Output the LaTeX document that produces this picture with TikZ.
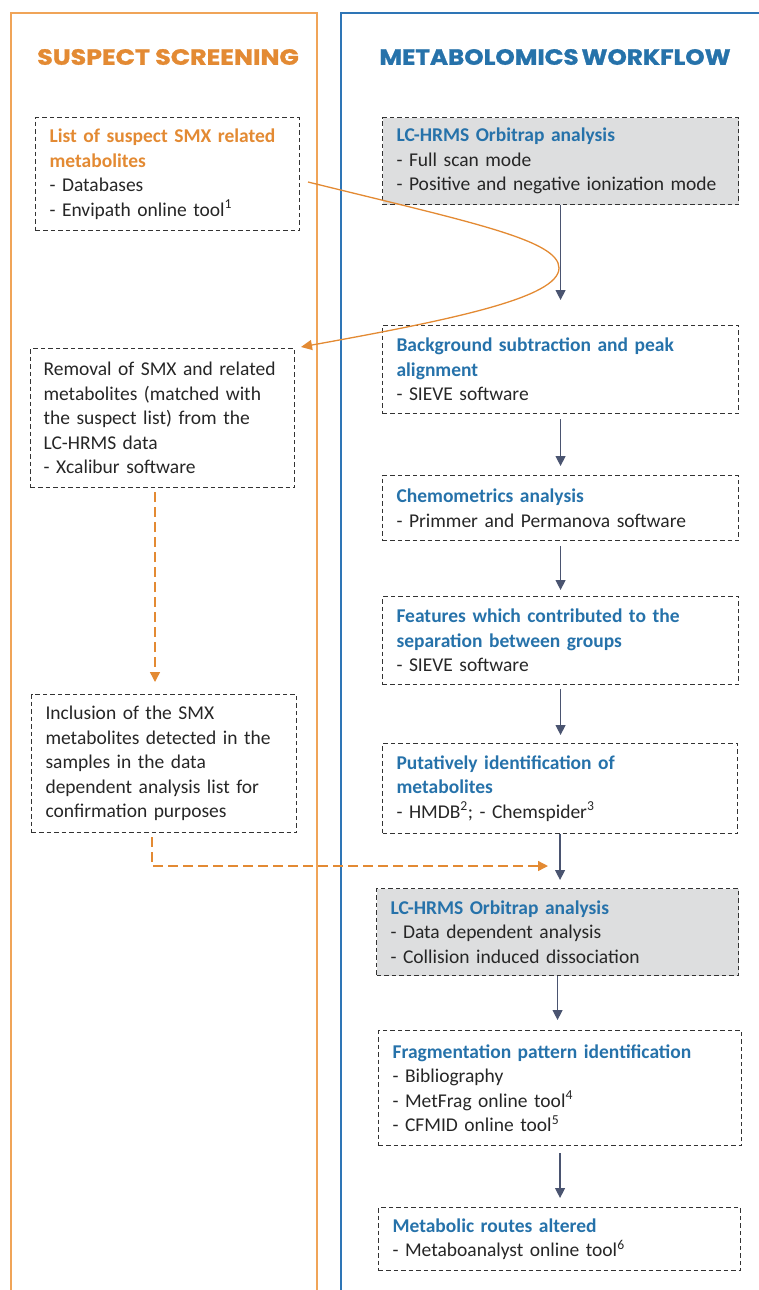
\documentclass[tikz,border=0pt]{standalone}
\usepackage{fontspec}
\setmainfont{Carlito}
\newfontfamily\hdrfont{Poppins}[BoldFeatures={FakeBold=1.2}]
\usetikzlibrary{arrows.meta,calc}
\definecolor{ora}{HTML}{E38A33}
\definecolor{oline}{HTML}{F0A458}
\definecolor{blu}{HTML}{2672AA}
\definecolor{bline}{HTML}{2E75B6}
\definecolor{grayfill}{HTML}{DDDEDF}
\definecolor{arrc}{HTML}{4A5470}
\definecolor{txt}{HTML}{262626}
\begin{document}
\begin{tikzpicture}[x=1pt,y=-1pt,
  box/.style={draw=black!80, dash pattern=on 4.5pt off 3pt, line width=1.1pt,
    anchor=north west, align=left, inner xsep=14pt, inner ysep=0pt,
    font=\fontsize{19.5}{24.5}\selectfont, text=txt},
  grey/.style={box, fill=grayfill},
  hdr/.style={font=\hdrfont\bfseries\fontsize{22}{26}\selectfont},
  arr/.style={draw=arrc, line width=1.3pt, -{Triangle[width=10pt,length=10pt]}},
  odash/.style={draw=ora, line width=1.4pt, dash pattern=on 10pt off 5pt, -{Triangle[width=10pt,length=10pt]}},
  ocurve/.style={draw=ora, line width=1.3pt, -{Triangle[width=10pt,length=11pt]}}]
\useasboundingbox (0,0) rectangle (759,1290);
% panels
\draw[oline, line width=1.6pt] (11,1292) -- (11,13) -- (317,13) -- (317,1292);
\draw[bline, line width=1.5pt] (341,1292) -- (341,13) -- (761,13);
% headers
\node[hdr, text=ora] (h1) at (168,57) {\scalebox{1.15}[1]{SUSPECT SCREENING}};
\node[hdr, text=blu] (h2) at (555,57) {\scalebox{1.12}[1]{METABOLOMICS\hspace{0.12em}WORKFLOW}};
% left column
\node[box, minimum width=264pt, minimum height=113pt, text width=236pt] (s1) at (35,117)
  {\textcolor{ora}{\bfseries List of suspect SMX related}\\\textcolor{ora}{\bfseries metabolites}\\- Databases\\- Envipath online tool\textsuperscript{1}};
\node[box, inner xsep=13pt, minimum width=264pt, minimum height=139pt, text width=238pt] (s2) at (30,348)
  {Removal of SMX and related\\metabolites (matched with\\the suspect list) from the\\LC-HRMS data\\- Xcalibur software};
\node[box, minimum width=265pt, minimum height=138pt, text width=237pt] (s3) at (31,694)
  {Inclusion of the SMX\\metabolites detected in the\\samples in the data\\dependent analysis list for\\confirmation purposes};
% right column
\node[grey, minimum width=356pt, minimum height=87pt, text width=328pt] (m1) at (382,117)
  {\textcolor{blu}{\bfseries LC-HRMS Orbitrap analysis}\\- Full scan mode\\- Positive and negative ionization mode};
\node[box, minimum width=356pt, minimum height=88pt, text width=328pt] (m2) at (382,325)
  {\textcolor{blu}{\bfseries Background subtraction and peak}\\\textcolor{blu}{\bfseries alignment}\\- SIEVE software};
\node[box, minimum width=356pt, minimum height=65pt, text width=328pt] (m3) at (382,475)
  {\textcolor{blu}{\bfseries Chemometrics analysis}\\- Primmer and Permanova software};
\node[box, minimum width=356pt, minimum height=88pt, text width=328pt] (m4) at (382,596)
  {\textcolor{blu}{\bfseries Features which contributed to the}\\\textcolor{blu}{\bfseries separation between groups}\\- SIEVE software};
\node[box, minimum width=355pt, minimum height=90pt, text width=327pt] (m5) at (382,743)
  {\textcolor{blu}{\bfseries Putatively identification of}\\\textcolor{blu}{\bfseries metabolites}\\- HMDB\textsuperscript{2}; - Chemspider\textsuperscript{3}};
\node[grey, minimum width=362pt, minimum height=87pt, text width=334pt] (m6) at (376,888)
  {\textcolor{blu}{\bfseries LC-HRMS Orbitrap analysis}\\- Data dependent analysis\\- Collision induced dissociation};
\node[box, minimum width=363pt, minimum height=115pt, text width=335pt] (m7) at (378,1030)
  {\textcolor{blu}{\bfseries Fragmentation pattern identification}\\- Bibliography\\- MetFrag online tool\textsuperscript{4}\\- CFMID online tool\textsuperscript{5}};
\node[box, minimum width=362pt, minimum height=63pt, text width=334pt] (m8) at (378,1207)
  {\textcolor{blu}{\bfseries Metabolic routes altered}\\- Metaboanalyst online tool\textsuperscript{6}};
% vertical arrows
\draw[arr, shorten >=25pt] (m1.south) -- (m1.south |- m2.north);
\draw[arr, shorten <=5pt, shorten >=9pt] (m2.south) -- (m2.south |- m3.north);
\draw[arr, shorten <=5pt, shorten >=6pt] (m3.south) -- (m3.south |- m4.north);
\draw[arr, shorten <=4pt, shorten >=8pt] (m4.south) -- (m4.south |- m5.north);
\draw[arr, shorten >=8pt] (m5.south) -- (m5.south |- m6.north);
\draw[arr, shorten >=10pt] (m6.south) -- (m6.south |- m7.north);
\draw[arr, shorten <=7pt, shorten >=9pt] (m7.south) -- (m7.south |- m8.north);
% orange connectors
\coordinate (c0) at (308,182);
\coordinate (c1) at (301,347);
\draw[ocurve] (c0) .. controls (470,222) and (559,240) .. (559,268)
  .. controls (559,298) and (450,320) .. (c1);
\coordinate (x155) at (155,0);
\draw[odash, shorten <=4pt, shorten >=12pt] (s2.south -| x155) -- (s3.north -| x155);
\coordinate (x152) at (152,0);
\coordinate (j) at (548,866);
\draw[odash, shorten <=4pt] (s3.south -| x152) |- (j);
\end{tikzpicture}
\end{document}
